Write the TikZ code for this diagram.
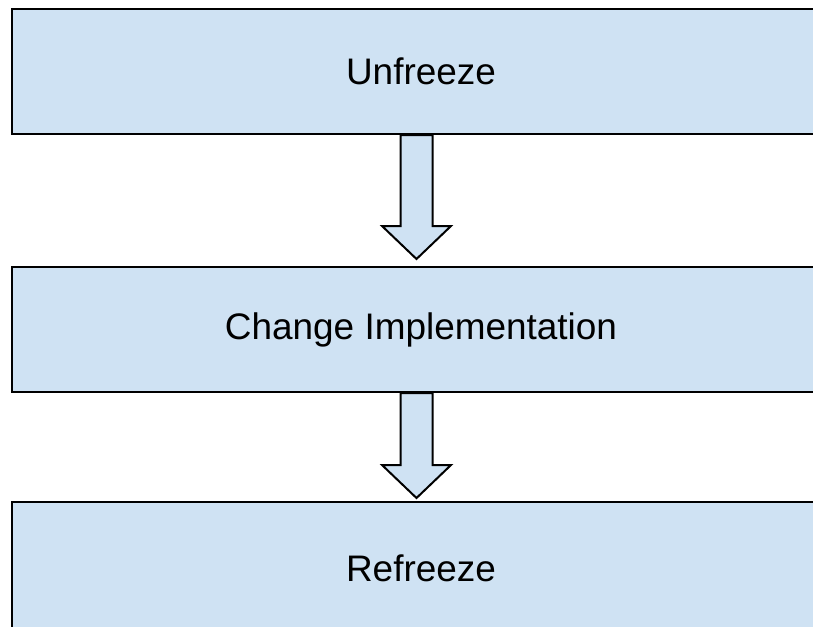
\documentclass[tikz,border=0pt]{standalone}
\usepackage{fontspec}
\setmainfont{Liberation Sans}
\usepackage{tikz}
\usetikzlibrary{positioning, calc}
\definecolor{stageblue}{RGB}{207,226,243}

\begin{document}
\begin{tikzpicture}[
    x=0.75pt, y=-0.75pt,
    stage/.style={draw=black, line width=1.5pt, fill=stageblue, rectangle,
        minimum width=613.5pt, minimum height=93.75pt, inner sep=0pt,
        font=\fontsize{27.7}{33}\selectfont},
    blockarrow/.style={draw=black, line width=1.5pt, fill=stageblue, line join=miter}
]
    \path[use as bounding box, clip] (0,0) rectangle (813,626);

    % the three stages
    \node[stage] (unfreeze) at (421,71.5) {Unfreeze};
    \node[stage] (change) at (421,329.5) {Change Implementation};
    \node[stage, minimum height=99pt] (refreeze) at (421,568) {Refreeze};

    % tips of the block arrows
    \coordinate (tip1) at ($(change.north)+(-4.5,-7)$);
    \coordinate (tip2) at ($(refreeze.north)+(-4.5,-3)$);

    \draw[blockarrow] ($(unfreeze.south)+(-20.5,0)$) |- ($(tip1)+(-34.5,-33)$)
        -- (tip1) -- ($(tip1)+(34.5,-33)$) -| ($(unfreeze.south)+(11.5,0)$) -- cycle;
    \draw[blockarrow] ($(change.south)+(-20.5,0)$) |- ($(tip2)+(-34.5,-33)$)
        -- (tip2) -- ($(tip2)+(34.5,-33)$) -| ($(change.south)+(11.5,0)$) -- cycle;
\end{tikzpicture}
\end{document}
